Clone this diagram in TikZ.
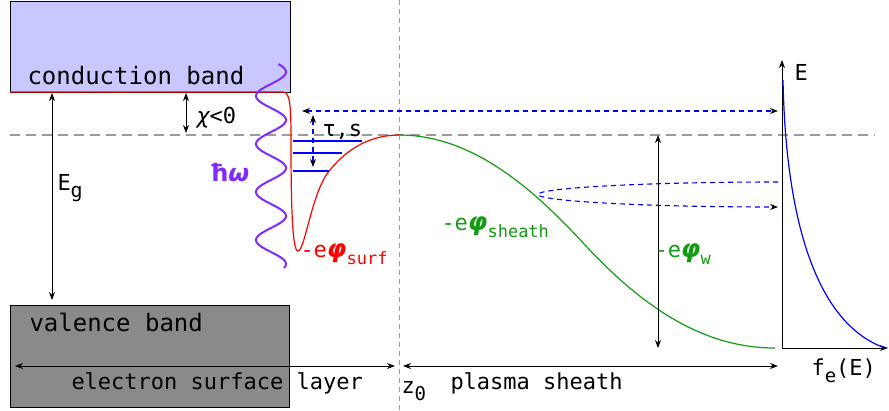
\documentclass[tikz,border=0pt]{standalone}
\usepackage{fontspec}
\setmainfont{DejaVu Sans Mono}
\newfontfamily\dvsans{DejaVu Sans}
\usetikzlibrary{arrows.meta}

\definecolor{cbfill}{RGB}{200,200,255}
\definecolor{vbfill}{RGB}{138,138,138}
\definecolor{levelgray}{RGB}{155,155,155}
\definecolor{sheathgreen}{RGB}{20,155,20}
\definecolor{photonviolet}{RGB}{127,42,255}

\newcommand\lowidx[2][17]{\raisebox{-0.32em}{\fontsize{#1}{#1}\selectfont #2}}
\newcommand\phib{{\dvsans\fontsize{25}{28}\selectfont\bfseries\itshape φ}}

\tikzset{every picture/.style={line width=1pt}}
\tikzset{
  lbl/.style={inner sep=0pt, anchor=base west, font=\fontsize{22}{26}\selectfont},
  bandlbl/.style={lbl, font=\fontsize{24}{28}\selectfont},
  btip/.tip={Stealth[length=8pt,width=6pt,black]},
  dimarrow/.style={btip-btip},
  flux/.style={draw=blue, dash pattern={on 5pt off 4pt}, line width=1.1pt},
}

\begin{document}
\begin{tikzpicture}[x=1pt,y=1pt,yscale=-1,xscale=1]
\useasboundingbox (0,0) rectangle (889,410);

%Bands
\draw [fill=cbfill, line width=0.8pt] (10,1) rectangle (290,92);
\draw [fill=vbfill, line width=0.8pt] (10,305) rectangle (289,407);

%Reference levels
\draw [levelgray, line width=2pt, dash pattern={on 10pt off 6pt}] (10,135) -- (875,135);
\draw [levelgray, line width=0.9pt, dash pattern={on 5pt off 4pt}] (399,0) -- (399,410);

\coordinate (cbL) at (10,92);
\coordinate (cbR) at (283,92);
\coordinate (z0) at (399,135);
\coordinate (wall) at (775,348);

%Surface potential
\draw [red, line width=1.2pt] (cbL) -- (cbR) .. controls (290,92) and (291,105) .. (291,140)
  .. controls (291,200) and (292,251) .. (298,251)
  .. controls (305,251) and (312,190) .. (330,170)
  .. controls (350,145) and (375,135) .. (z0);
%Sheath potential
\draw [sheathgreen, line width=1.2pt] (z0) .. controls (470,135) and (530,185) .. (585,245)
  .. controls (650,315) and (710,348) .. (wall);

%Surface states
\draw [blue, line width=1.2pt] (293,141) -- (362,141);
\draw [blue, line width=1.2pt] (293,153) -- (342,153);
\draw [blue, line width=1.2pt] (293,171) -- (329,171);

%Photon
\draw [photonviolet, line width=2pt] plot[domain=64:268, samples=150] ({271+15*sin(7.5*(\x-60))}, \x);

%Energy arrows
\coordinate (egT) at (52,93);
\coordinate (egB) at (52,300);
\draw [dimarrow] (egT) -- (egB);
\coordinate (chiT) at (186,93);
\coordinate (chiB) at (186,133);
\draw [dimarrow] (chiT) -- (chiB);
\coordinate (tauT) at (313,115);
\coordinate (tauB) at (313,167);
\draw [flux, dimarrow] (tauT) -- (tauB);
\coordinate (phiwT) at (658,135);
\coordinate (phiwB) at (658,348);
\draw [dimarrow] (phiwT) -- (phiwB);

%Electron fluxes
\coordinate (emL) at (302,111);
\coordinate (emR) at (778,111);
\draw [flux, dimarrow] (emL) -- (emR);
\coordinate (refU) at (778,182);
\coordinate (refL) at (778,207);
\draw [flux, -btip] (refU) .. controls (645,182) and (538,188) .. (538,194.5)
  .. controls (538,201) and (645,207) .. (refL);

%Distribution function
\coordinate (org) at (782,348);
\coordinate (Etop) at (782,60);
\coordinate (fright) at (888,348);
\draw [-btip] (org) -- (Etop);
\draw [-btip] (org) -- (fright);
\draw [blue, line width=1.2pt] (783,80) .. controls (786,230) and (820,325) .. (885,348);

%Layer arrows
\coordinate (eslL) at (15,366);
\coordinate (eslR) at (395,366);
\draw [dimarrow] (eslL) -- (eslR);
\coordinate (psL) at (403,366);
\coordinate (psR) at (778,366);
\draw [dimarrow] (psL) -- (psR);

% Text Node
\node [bandlbl] (cblbl) at (27,84) {conduction band};
\node [bandlbl] (vblbl) at (29,331) {valence band};
\node [lbl] (eglbl) at (57,190) {E\lowidx[20]{g}};
\node [lbl] (chilbl) at (196,123) {{\dvsans\itshape χ}<0};
\node [lbl, text=photonviolet] (hwlbl) at (209,181) {\fontsize{24}{28}\selectfont\dvsans\bfseries ħ{\itshape ω}};
\node [lbl] (taulbl) at (322,136) {τ,s};
\node [lbl, text=red] (surflbl) at (300,257) {-e\phib\lowidx{surf}};
\node [lbl, text=sheathgreen] (sheathlbl) at (441,230) {-e\phib\lowidx{sheath}};
\node [lbl, text=sheathgreen] (wlbl) at (654,257) {-e\phib\lowidx{w}};
\node [lbl] (Elbl) at (794,80) {E};
\node [lbl] (felbl) at (811,375) {f\lowidx[19]{e}(E)};
\node [lbl] (esllbl) at (71,389) {electron surface layer};
\node [lbl] (z0lbl) at (401,393) {z\lowidx[19]{0}};
\node [lbl] (pslbl) at (450,389) {plasma sheath};
\end{tikzpicture}
\end{document}
